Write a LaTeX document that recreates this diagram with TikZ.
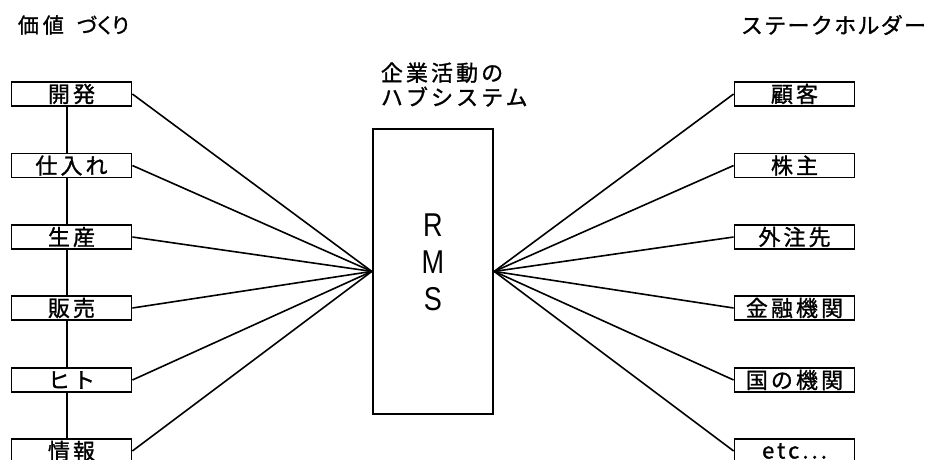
\documentclass[tikz,border=0pt]{standalone}
\usepackage{fontspec}
\setmainfont{Liberation Sans}
\newfontfamily\jp[FakeBold=1.2]{Noto Sans CJK JP}
\newfontfamily\jpp[FakeBold=1.2,RawFeature=+palt]{Noto Sans CJK JP}
\newfontfamily\jpls[LetterSpace=14,FakeBold=1.2]{Noto Sans CJK JP}
\newfontfamily\jplt[LetterSpace=6,FakeBold=1.2]{Noto Sans CJK JP}
\newfontfamily\rmsfont[FakeStretch=0.82]{Liberation Sans}
\begin{document}
\begin{tikzpicture}[x=1pt,y=-1pt,line width=1.8pt,
  lbox/.style={draw, minimum width=120pt, minimum height=24pt, inner sep=0pt,
    font=\jpls\fontsize{22}{22}\selectfont},
  hubbox/.style={draw, minimum width=120.6pt, minimum height=284.7pt, inner sep=0pt},
  ttl/.style={inner sep=0pt, font=\jpls\fontsize{22}{24.5}\selectfont},
  link/.style={line width=1.6pt}]
\useasboundingbox (0,0) rectangle (932,459);
% left column
\node[lbox] (l1) at (71.5,94) {開発};
\node[lbox] (l2) at (71.5,165.5) {仕入れ};
\node[lbox] (l3) at (71.5,237) {生産};
\node[lbox] (l4) at (71.5,308) {販売};
\node[lbox] (l5) at (71.5,380) {ヒト};
\node[lbox] (l6) at (71.5,451) {情報};
% right column
\node[lbox] (r1) at (794.5,94) {顧客};
\node[lbox] (r2) at (794.5,165.5) {株主};
\node[lbox] (r3) at (794.5,237) {外注先};
\node[lbox] (r4) at (794.5,308) {金融機関};
\node[lbox] (r5) at (794.5,380) {国の機関};
\node[lbox] (r6) at (794.5,451) {etc...};
% hub
\node[hubbox] (hub) at (433,271.4) {};
\node[inner sep=0pt, align=center, font=\rmsfont\fontsize{33}{37}\selectfont] (rms) at (433,262) {R\\M\\S};
% titles
\node[inner sep=0pt, anchor=west, font=\jp\fontsize{21}{21}\selectfont] (tl) at (17,25)
  {価\hspace{4pt}値\hspace{13pt}{\jpp\fontsize{21}{21}\selectfont づくり}};
\node[inner sep=0pt, anchor=west, font=\jplt\fontsize{22}{22}\selectfont] (tr) at (740,25) {ステークホルダー};
\node[ttl, anchor=west, align=left] (th) at (380,84.5) {企業活動の\\ハブシステム};
% vertical chain
\coordinate (v) at (67,0);
\foreach \a/\b in {l1/l2,l2/l3,l3/l4,l4/l5,l5/l6}
  \draw[link] (\a.south -| v) -- (\b.north -| v);
% spokes
\foreach \n in {l1,l2,l3,l4,l5,l6}
  \draw[link] (\n.east) -- (hub.west);
\foreach \n in {r1,r2,r3,r4,r5,r6}
  \draw[link] (\n.west) -- (hub.east);
\end{tikzpicture}
\end{document}
